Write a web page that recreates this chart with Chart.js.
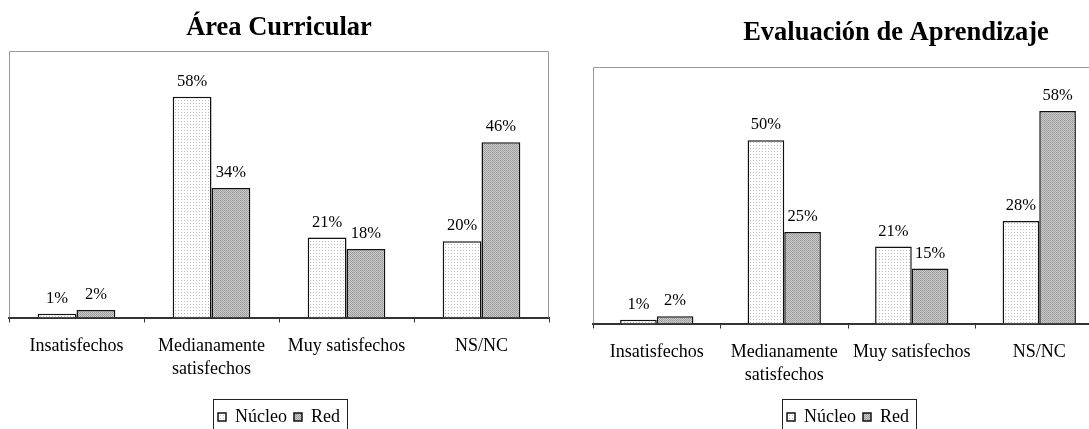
<!DOCTYPE html>
<html>
<head>
<meta charset="utf-8">
<script src="https://cdn.jsdelivr.net/npm/chart.js@4"></script>
<style>
html, body { margin: 0; padding: 0; background: #fff; }
body { width: 1089px; height: 429px; overflow: hidden; position: relative; }
#leftBox { position: absolute; left: 0; top: 0; }
#rightBox { position: absolute; left: 560px; top: 0; }
</style>
</head>
<body>
<div id="leftBox"><canvas id="chartCurricular" width="558" height="450"></canvas></div>
<div id="rightBox"><canvas id="chartEvaluacion" width="639" height="450"></canvas></div>
<script>
const categories = ['Insatisfechos', ['Medianamente', 'satisfechos'], 'Muy satisfechos', 'NS/NC'];
const seriesNames = ['Núcleo', 'Red'];
const curricularNucleo = [1, 58, 21, 20];
const curricularRed = [2, 34, 18, 46];
const evaluacionNucleo = [1, 50, 21, 28];
const evaluacionRed = [2, 25, 15, 58];
const axisMax = 70;

Chart.defaults.font.family = "'Liberation Serif', 'Times New Roman', serif";
Chart.defaults.color = '#000';

// small tiles for the excel-like fill patterns
function makePattern(ctx, size, bg, dots) {
    const tile = document.createElement('canvas');
    tile.width = size;
    tile.height = size;
    const t = tile.getContext('2d');
    t.fillStyle = bg;
    t.fillRect(0, 0, size, size);
    dots.forEach(d => {
        t.fillStyle = d[2];
        t.fillRect(d[0], d[1], 1, 1);
    });
    return ctx.createPattern(tile, 'repeat');
}

const plotBox = {
    id: 'plotBox',
    beforeDatasetsDraw(chart) {
        const a = chart.chartArea;
        const ctx = chart.ctx;
        ctx.save();
        ctx.strokeStyle = '#999';
        ctx.lineWidth = 1;
        ctx.beginPath();
        ctx.moveTo(a.left + 0.5, a.bottom);
        ctx.lineTo(a.left + 0.5, a.top + 0.5);
        ctx.lineTo(a.right - 0.5, a.top + 0.5);
        ctx.lineTo(a.right - 0.5, a.bottom);
        ctx.stroke();
        ctx.restore();
    }
};

const valueLabels = {
    id: 'valueLabels',
    afterDatasetsDraw(chart) {
        const ctx = chart.ctx;
        ctx.save();
        ctx.font = "16.5px 'Liberation Serif', serif";
        ctx.fillStyle = '#000';
        ctx.textAlign = 'center';
        ctx.textBaseline = 'alphabetic';
        chart.data.datasets.forEach((ds, i) => {
            chart.getDatasetMeta(i).data.forEach((bar, j) => {
                ctx.fillText(ds.data[j] + '%', bar.x, bar.y - 11);
            });
        });
        ctx.restore();
    }
};

const legendFrame = {
    id: 'legendFrame',
    afterDraw(chart) {
        const hb = chart.legend.legendHitBoxes;
        if (!hb || !hb.length) return;
        const ctx = chart.ctx;
        const left = Math.min(...hb.map(h => h.left)) - 5;
        const right = Math.max(...hb.map(h => h.left + h.width)) + 7;
        const mid = hb[0].top + hb[0].height / 2;
        ctx.save();
        ctx.strokeStyle = '#222';
        ctx.lineWidth = 1;
        ctx.strokeRect(Math.round(left) + 0.5, Math.round(mid - 18) + 0.5, Math.round(right - left), 44);
        ctx.restore();
    }
};

function buildChart(id, titleText, nucleo, red, lay) {
    const canvas = document.getElementById(id);
    const ctx = canvas.getContext('2d');
    const nucleoFill = makePattern(ctx, 3, '#ffffff', [[1, 1, '#bdbdbd']]);
    const redFill = makePattern(ctx, 2, '#cacaca', [[0, 0, '#999999'], [1, 1, '#a4a4a4']]);

    return new Chart(canvas, {
        type: 'bar',
        data: {
            labels: categories,
            datasets: [
                { label: seriesNames[0], data: nucleo, backgroundColor: nucleoFill, borderColor: '#111', borderWidth: 1.5 },
                { label: seriesNames[1], data: red, backgroundColor: redFill, borderColor: '#111', borderWidth: 1.5 }
            ]
        },
        options: {
            responsive: false,
            animation: false,
            events: [],
            datasets: { bar: { categoryPercentage: 0.575, barPercentage: 1 } },
            layout: { padding: { left: lay.padLeft, right: lay.padRight, top: 0, bottom: 14 } },
            scales: {
                x: {
                    grid: { drawOnChartArea: false, drawTicks: true, tickLength: 5, color: '#333', lineWidth: 1 },
                    border: { color: '#333', width: 2 },
                    ticks: {
                        autoSkip: false, maxRotation: 0, padding: 12,
                        font: { size: 18, lineHeight: 1.28 }, color: '#000'
                    },
                    afterFit: s => { s.height = lay.axisHeight; }
                },
                y: {
                    min: 0, max: axisMax,
                    display: lay.rightGap > 0,
                    position: 'right',
                    grid: { display: false },
                    border: { display: false },
                    ticks: { display: false },
                    afterFit: s => { s.width = lay.rightGap; }
                }
            },
            plugins: {
                title: {
                    display: true, text: titleText, color: '#000',
                    font: { size: 26.5, weight: 'bold', lineHeight: 1.2 },
                    padding: { top: lay.titleTop, bottom: lay.titleBottom }
                },
                legend: {
                    position: 'bottom',
                    fullSize: false,
                    labels: { boxWidth: 8, boxHeight: 8, padding: 7, font: { size: 18 }, color: '#000' }
                },
                tooltip: { enabled: false }
            }
        },
        plugins: [plotBox, valueLabels, legendFrame]
    });
}

buildChart('chartCurricular', 'Área Curricular', curricularNucleo, curricularRed,
    { padLeft: 9, padRight: 9, rightGap: 0, titleTop: 12.5, titleBottom: 6.7, axisHeight: 83.5 });
buildChart('chartEvaluacion', 'Evaluación de Aprendizaje', evaluacionNucleo, evaluacionRed,
    { padLeft: 33, padRight: 0, rightGap: 96, titleTop: 17.5, titleBottom: 17.7, axisHeight: 77.5 });
</script>
</body>
</html>
